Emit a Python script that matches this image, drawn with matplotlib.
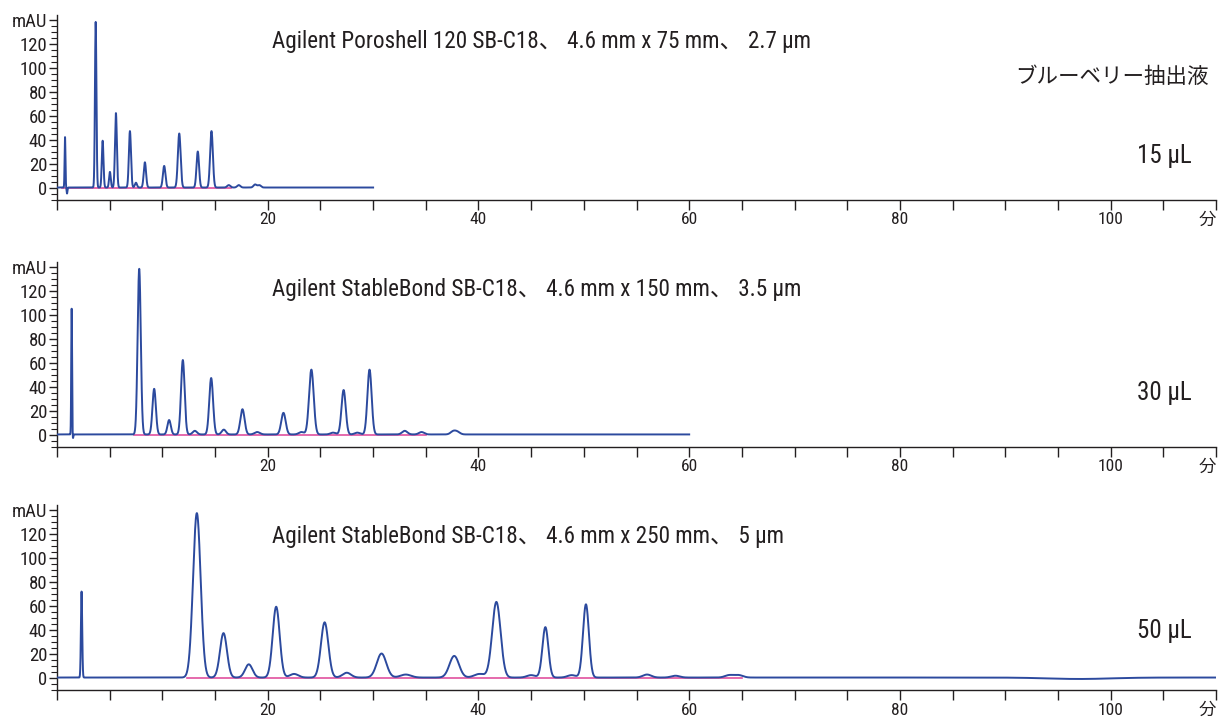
import numpy as np
import matplotlib
matplotlib.use("Agg")
import matplotlib.pyplot as plt
from matplotlib.ticker import MultipleLocator

plt.rcParams['font.family'] = ['Roboto Condensed', 'Archivo Narrow', 'Noto Sans CJK JP', 'DejaVu Sans']

TXT = '#231f20'
BLUE = '#2c4a9e'
PINK = '#e0509e'

# peak tables: retention time (min), height (mAU), width (sigma, min)
rt1 = [0.76, 0.95, 3.67, 4.33, 5.02, 5.59, 6.92, 7.49, 8.34, 10.17, 11.6, 13.36, 14.66, 16.3, 17.25, 18.8, 19.2]
h1 = [42, -5, 138, 39, 13, 62, 47, 4, 21, 18, 45, 30, 47, 2, 2, 2.5, 2]
w1 = [0.04, 0.04, 0.07, 0.08, 0.08, 0.09, 0.1, 0.1, 0.11, 0.12, 0.13, 0.12, 0.13, 0.15, 0.15, 0.15, 0.15]

rt2 = [1.39, 1.5, 7.8, 9.22, 10.64, 11.94, 13.08, 14.63, 15.83, 17.6, 19.0, 21.49, 23.2, 24.14, 26.2, 27.2,
       28.5, 29.66, 33.0, 34.6, 37.6, 38.0]
h2 = [105, -4, 138, 38, 12, 62, 3, 47, 4, 21, 2, 18, 2, 54, 1.5, 37, 1.5, 54, 3, 2, 2.5, 2]
w2 = [0.04, 0.04, 0.15, 0.16, 0.16, 0.17, 0.2, 0.18, 0.2, 0.2, 0.25, 0.21, 0.25, 0.22, 0.25, 0.2,
      0.25, 0.2, 0.25, 0.25, 0.25, 0.25]

rt3 = [2.33, 13.27, 15.8, 18.2, 20.8, 22.5, 25.4, 27.5, 30.8, 33.1, 37.7, 40.1, 41.7, 45.0, 46.35,
       48.85, 50.2, 56.0, 58.7, 63.8, 64.7, 97.0]
h3 = [72, 137, 37, 11, 59, 3, 46, 4, 20, 2.5, 18, 3, 63, 2, 42, 2, 61, 2.5, 1.5, 2, 2, -1.2]
w3 = [0.06, 0.36, 0.33, 0.35, 0.33, 0.4, 0.35, 0.4, 0.45, 0.5, 0.45, 0.5, 0.4, 0.4, 0.28, 0.4,
      0.28, 0.4, 0.4, 0.4, 0.4, 3.0]

run_end = [30, 60, 110]
base_seg = [(0.5, 16.5), (7.3, 35.0), (12.3, 65.0)]
titles = ['Agilent Poroshell 120 SB-C18、 4.6 mm x 75 mm、 2.7 µm',
          'Agilent StableBond SB-C18、 4.6 mm x 150 mm、 3.5 µm',
          'Agilent StableBond SB-C18、 4.6 mm x 250 mm、 5 µm']
volumes = ['15 µL', '30 µL', '50 µL']
vol_y = [26.5, 35, 39]
title_y = [122, 121, 118]

y_major = [0, 20, 40, 60, 80, 100, 120, 140]
y_labels = ['0', '20', '40', '60', '80', '100', '120', 'mAU']
x_major = [20, 40, 60, 80, 100, 110]
x_labels = ['20', '40', '60', '80', '100', '分']

fig = plt.figure(figsize=(12.21, 7.22), dpi=100)
bottoms = [0.723, 0.381, 0.0443]
peaks = [(rt1, h1, w1), (rt2, h2, w2), (rt3, h3, w3)]

for i in range(3):
    ax = fig.add_axes([0.0467, bottoms[i], 0.9492, 0.256])
    rt, h, w = peaks[i]
    t = np.linspace(0, run_end[i], 8000)
    y = np.full_like(t, 0.4)
    for r, hh, ww in zip(rt, h, w):
        y += hh * np.exp(-0.5 * ((t - r) / ww) ** 2)

    a, b = base_seg[i]
    ax.plot([a, b], [0, 0], color=PINK, lw=1.2, zorder=2)
    ax.plot(t, y, color=BLUE, lw=1.4, zorder=3)

    ax.set_xlim(0, 110)
    ax.set_ylim(-10, 144)
    for s in ['top', 'right']:
        ax.spines[s].set_visible(False)
    for s in ['left', 'bottom']:
        ax.spines[s].set_color(TXT)
        ax.spines[s].set_linewidth(1.0)

    ax.set_xticks(x_major, x_labels)
    ax.get_xticklabels()[-1].set_horizontalalignment('right')
    ax.xaxis.set_minor_locator(MultipleLocator(5))
    ax.tick_params(axis='x', which='both', direction='out', length=7, width=1, color=TXT,
                   labelsize=12.5, labelcolor=TXT, pad=2)

    ax.set_yticks(y_major, y_labels)
    ax.yaxis.set_minor_locator(MultipleLocator(5))
    ax.tick_params(axis='y', which='major', direction='out', length=6, width=1, color=TXT,
                   labelsize=13.5, labelcolor=TXT, pad=1)
    ax.tick_params(axis='y', which='minor', direction='out', length=4, width=0.8, color=TXT)

    ax.text(20.4, title_y[i], titles[i], fontsize=16.7, color=TXT, va='center', ha='left')
    ax.text(107.7, vol_y[i], volumes[i], fontsize=18, color=TXT, va='center', ha='right')
    if i == 0:
        ax.text(109.3, 92, 'ブルーベリー抽出液', fontsize=15.5, color=TXT, va='center', ha='right')

fig.savefig('out.png', dpi=100)
